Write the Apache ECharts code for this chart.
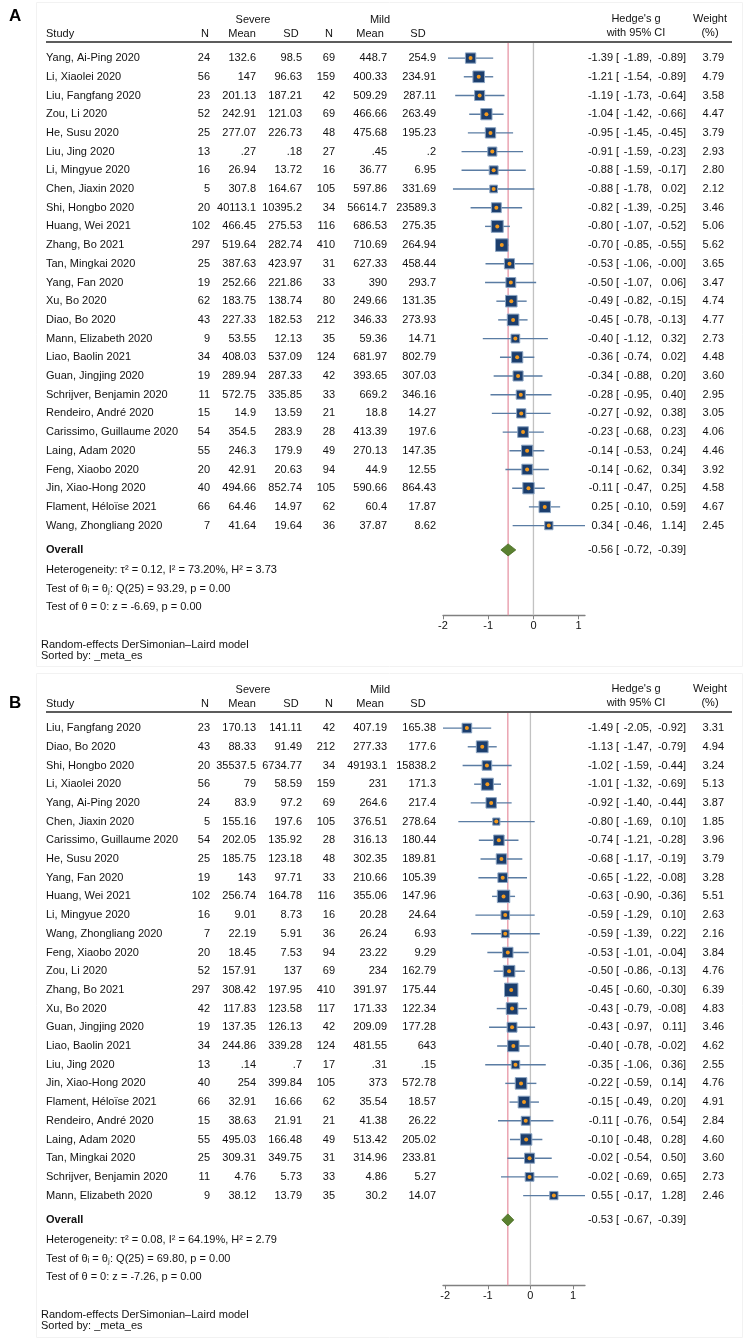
<!DOCTYPE html>
<html><head><meta charset="utf-8">
<script src="https://cdn.jsdelivr.net/npm/echarts@6/dist/echarts.min.js"></script>
<style>html,body{margin:0;padding:0;background:#fff}#c{width:744px;height:1339px}</style>
</head><body><div id="c"></div>
<script>
// ---------------- Panel A data ----------------
const studiesA = ["Yang, Ai-Ping 2020","Li, Xiaolei 2020","Liu, Fangfang 2020","Zou, Li 2020","He, Susu 2020","Liu, Jing 2020","Li, Mingyue 2020","Chen, Jiaxin 2020","Shi, Hongbo 2020","Huang, Wei 2021","Zhang, Bo 2021","Tan, Mingkai 2020","Yang, Fan 2020","Xu, Bo 2020","Diao, Bo 2020","Mann, Elizabeth 2020","Liao, Baolin 2021","Guan, Jingjing 2020","Schrijver, Benjamin 2020","Rendeiro, André 2020","Carissimo, Guillaume 2020","Laing, Adam 2020","Feng, Xiaobo 2020","Jin, Xiao-Hong 2020","Flament, Héloïse 2021","Wang, Zhongliang 2020"];
const sevNA = [24,56,23,52,25,13,16,5,20,102,297,25,19,62,43,9,34,19,11,15,54,55,20,40,66,7];
const sevMeanA = [132.6,147,201.13,242.91,277.07,0.27,26.94,307.8,40113.1,466.45,519.64,387.63,252.66,183.75,227.33,53.55,408.03,289.94,572.75,14.9,354.5,246.3,42.91,494.66,64.46,41.64];
const sevSDA = [98.5,96.63,187.21,121.03,226.73,0.18,13.72,164.67,10395.2,275.53,282.74,423.97,221.86,138.74,182.53,12.13,537.09,287.33,335.85,13.59,283.9,179.9,20.63,852.74,14.97,19.64];
const mildNA = [69,159,42,69,48,27,16,105,34,116,410,31,33,80,212,35,124,42,33,21,28,49,94,105,62,36];
const mildMeanA = [448.7,400.33,509.29,466.66,475.68,0.45,36.77,597.86,56614.7,686.53,710.69,627.33,390,249.66,346.33,59.36,681.97,393.65,669.2,18.8,413.39,270.13,44.9,590.66,60.4,37.87];
const mildSDA = [254.9,234.91,287.11,263.49,195.23,0.2,6.95,331.69,23589.3,275.35,264.94,458.44,293.7,131.35,273.93,14.71,802.79,307.03,346.16,14.27,197.6,147.35,12.55,864.43,17.87,8.62];
const esA = [-1.39,-1.21,-1.19,-1.04,-0.95,-0.91,-0.88,-0.88,-0.82,-0.80,-0.70,-0.53,-0.50,-0.49,-0.45,-0.40,-0.36,-0.34,-0.28,-0.27,-0.23,-0.14,-0.14,-0.11,0.25,0.34];
const loA = [-1.89,-1.54,-1.73,-1.42,-1.45,-1.59,-1.59,-1.78,-1.39,-1.07,-0.85,-1.06,-1.07,-0.82,-0.78,-1.12,-0.74,-0.88,-0.95,-0.92,-0.68,-0.53,-0.62,-0.47,-0.10,-0.46];
const hiA = [-0.89,-0.89,-0.64,-0.66,-0.45,-0.23,-0.17,0.02,-0.25,-0.52,-0.55,-0.00,0.06,-0.15,-0.13,0.32,0.02,0.20,0.40,0.38,0.23,0.24,0.34,0.25,0.59,1.14];
const wA = [3.79,4.79,3.58,4.47,3.79,2.93,2.80,2.12,3.46,5.06,5.62,3.65,3.47,4.74,4.77,2.73,4.48,3.60,2.95,3.05,4.06,4.46,3.92,4.58,4.67,2.45];
const overallA = [-0.56,-0.72,-0.39];
const statsA = ["Heterogeneity: τ² = 0.12, I² = 73.20%, H² = 3.73","Test of θᵢ = θⱼ: Q(25) = 93.29, p = 0.00","Test of θ = 0: z = -6.69, p = 0.00"];

// ---------------- Panel B data ----------------
const studiesB = ["Liu, Fangfang 2020","Diao, Bo 2020","Shi, Hongbo 2020","Li, Xiaolei 2020","Yang, Ai-Ping 2020","Chen, Jiaxin 2020","Carissimo, Guillaume 2020","He, Susu 2020","Yang, Fan 2020","Huang, Wei 2021","Li, Mingyue 2020","Wang, Zhongliang 2020","Feng, Xiaobo 2020","Zou, Li 2020","Zhang, Bo 2021","Xu, Bo 2020","Guan, Jingjing 2020","Liao, Baolin 2021","Liu, Jing 2020","Jin, Xiao-Hong 2020","Flament, Héloïse 2021","Rendeiro, André 2020","Laing, Adam 2020","Tan, Mingkai 2020","Schrijver, Benjamin 2020","Mann, Elizabeth 2020"];
const sevNB = [23,43,20,56,24,5,54,25,19,102,16,7,20,52,297,42,19,34,13,40,66,15,55,25,11,9];
const sevMeanB = [170.13,88.33,35537.5,79,83.9,155.16,202.05,185.75,143,256.74,9.01,22.19,18.45,157.91,308.42,117.83,137.35,244.86,0.14,254,32.91,38.63,495.03,309.31,4.76,38.12];
const sevSDB = [141.11,91.49,6734.77,58.59,97.2,197.6,135.92,123.18,97.71,164.78,8.73,5.91,7.53,137,197.95,123.58,126.13,339.28,0.7,399.84,16.66,21.91,166.48,349.75,5.73,13.79];
const mildNB = [42,212,34,159,69,105,28,48,33,116,16,36,94,69,410,117,42,124,17,105,62,21,49,31,33,35];
const mildMeanB = [407.19,277.33,49193.1,231,264.6,376.51,316.13,302.35,210.66,355.06,20.28,26.24,23.22,234,391.97,171.33,209.09,481.55,0.31,373,35.54,41.38,513.42,314.96,4.86,30.2];
const mildSDB = [165.38,177.6,15838.2,171.3,217.4,278.64,180.44,189.81,105.39,147.96,24.64,6.93,9.29,162.79,175.44,122.34,177.28,643,0.15,572.78,18.57,26.22,205.02,233.81,5.27,14.07];
const esB = [-1.49,-1.13,-1.02,-1.01,-0.92,-0.80,-0.74,-0.68,-0.65,-0.63,-0.59,-0.59,-0.53,-0.50,-0.45,-0.43,-0.43,-0.40,-0.35,-0.22,-0.15,-0.11,-0.10,-0.02,-0.02,0.55];
const loB = [-2.05,-1.47,-1.59,-1.32,-1.40,-1.69,-1.21,-1.17,-1.22,-0.90,-1.29,-1.39,-1.01,-0.86,-0.60,-0.79,-0.97,-0.78,-1.06,-0.59,-0.49,-0.76,-0.48,-0.54,-0.69,-0.17];
const hiB = [-0.92,-0.79,-0.44,-0.69,-0.44,0.10,-0.28,-0.19,-0.08,-0.36,0.10,0.22,-0.04,-0.13,-0.30,-0.08,0.11,-0.02,0.36,0.14,0.20,0.54,0.28,0.50,0.65,1.28];
const wB = [3.31,4.94,3.24,5.13,3.87,1.85,3.96,3.79,3.28,5.51,2.63,2.16,3.84,4.76,6.39,4.83,3.46,4.62,2.55,4.76,4.91,2.84,4.60,3.60,2.73,2.46];
const overallB = [-0.53,-0.67,-0.39];
const statsB = ["Heterogeneity: τ² = 0.08, I² = 64.19%, H² = 2.79","Test of θᵢ = θⱼ: Q(25) = 69.80, p = 0.00","Test of θ = 0: z = -7.26, p = 0.00"];

const tickValues = [-2,-1,0,1];
const footA = ["Random-effects DerSimonian–Laird model","Sorted by: _meta_es"];
const footB = ["Random-effects DerSimonian–Laird model","Sorted by: _meta_es"];

// ---------------- layout ----------------
const FONT = '"Liberation Sans", Arial, Helvetica, sans-serif';
const ROW = 18.7, YMIN = -0.86, YMAX = 29.8;
const OVERALL_ROW = 26.3, STAT_ROWS = [27.36, 28.38, 29.34];
const fmtNum = v => { let s = String(v); if (s.startsWith('0.')) s = s.slice(1); return s; };
const fmt2 = v => (Object.is(v, -0) ? '-0.00' : v.toFixed(2));

const chart = echarts.init(document.getElementById('c'), null, {renderer: 'canvas'});
const grids = [], xAxes = [], yAxes = [], series = [];

function txt(x, y, text, align, opts) {
  return {type: 'text', style: Object.assign({
    x: x, y: y, text: text, align: align || 'left', verticalAlign: 'middle',
    fill: '#111', fontSize: 11, fontFamily: FONT
  }, opts || {})};
}

function buildPanel(gi, top, P) {
  const xmin = Math.min(-2, ...P.lo), xmax = Math.max(1, ...P.hi);
  grids.push({left: 443, top: top, width: 142, height: (YMAX - YMIN) * ROW});
  xAxes.push({
    type: 'value', gridIndex: gi, min: xmin, max: xmax, position: 'bottom',
    axisLine: {show: true, onZero: false, lineStyle: {color: '#808080', width: 1.3}},
    axisTick: {show: true, customValues: tickValues, length: 4, lineStyle: {color: '#808080', width: 1}},
    axisLabel: {show: true, customValues: tickValues, fontSize: 11, color: '#111', margin: 5, fontFamily: FONT},
    splitLine: {show: false}
  });
  yAxes.push({type: 'value', gridIndex: gi, inverse: true, min: YMIN, max: YMAX, show: false});

  // reference lines (overall estimate, zero)
  series.push({
    type: 'custom', xAxisIndex: gi, yAxisIndex: gi, clip: false, silent: true, z: 1,
    data: [[P.overall[0], 0], [0, 1]],
    renderItem: (params, api) => {
      const x = api.value(0);
      const a = api.coord([x, YMIN]), b = api.coord([x, YMAX]);
      return {type: 'line', shape: {x1: a[0], y1: a[1], x2: b[0], y2: b[1]},
        style: {stroke: api.value(1) === 0 ? '#e796a6' : '#c2c2c2', lineWidth: 1.3}};
    }
  });

  // study CIs and boxes
  series.push({
    type: 'custom', xAxisIndex: gi, yAxisIndex: gi, clip: false, silent: true, z: 3,
    data: P.es.map((e, i) => [e, i, P.lo[i], P.hi[i], P.w[i]]),
    renderItem: (params, api) => {
      const row = api.value(1);
      const c = api.coord([api.value(0), row]);
      const a = api.coord([api.value(2), row]);
      const b = api.coord([api.value(3), row]);
      const s = 5.3 * Math.sqrt(api.value(4));
      return {type: 'group', children: [
        {type: 'line', shape: {x1: a[0], y1: a[1], x2: b[0], y2: b[1]}, style: {stroke: '#5a7ca3', lineWidth: 1.4}},
        {type: 'rect', shape: {x: c[0] - s / 2, y: c[1] - s / 2, width: s, height: s}, style: {fill: '#1c3e6d', stroke: '#8ba4c2', lineWidth: 1}},
        {type: 'circle', shape: {cx: c[0], cy: c[1], r: 2}, style: {fill: '#f39a1e'}}
      ]};
    }
  });

  // overall diamond
  series.push({
    type: 'custom', xAxisIndex: gi, yAxisIndex: gi, clip: false, silent: true, z: 3,
    data: [[P.overall[0], OVERALL_ROW, P.overall[1], P.overall[2]]],
    renderItem: (params, api) => {
      const row = api.value(1);
      const c = api.coord([api.value(0), row]);
      const a = api.coord([api.value(2), row]);
      const b = api.coord([api.value(3), row]);
      return {type: 'polygon', shape: {points: [[a[0], a[1]], [c[0], c[1] - 6], [b[0], b[1]], [c[0], c[1] + 6]]},
        style: {fill: '#5a8130', stroke: '#46691f', lineWidth: 0.8}};
    }
  });

  // table text
  const textData = P.study.map((s, i) => [0, i, 0, i]);
  textData.push([0, OVERALL_ROW, 1, 0]);
  STAT_ROWS.forEach((r, k) => textData.push([0, r, 2, k]));
  textData.push([0, YMIN, 3, 0]);
  textData.push([0, YMAX, 4, 0]);
  const ciTexts = (y, e, l, h) => [
    txt(613, y, fmt2(e), 'right'),
    txt(616, y, '['),
    txt(652, y, fmt2(l) + ',', 'right'),
    txt(683, y, fmt2(h), 'right'),
    txt(683, y, ']')
  ];
  series.push({
    type: 'custom', xAxisIndex: gi, yAxisIndex: gi, clip: false, silent: true, z: 5,
    data: textData,
    renderItem: (params, api) => {
      const y = api.coord([0, api.value(1)])[1];
      const kind = api.value(2), k = api.value(3);
      if (kind === 0) {
        return {type: 'group', children: [
          txt(46, y, P.study[k]),
          txt(210, y, fmtNum(P.sevN[k]), 'right'),
          txt(256, y, fmtNum(P.sevMean[k]), 'right'),
          txt(302, y, fmtNum(P.sevSD[k]), 'right'),
          txt(335, y, fmtNum(P.mildN[k]), 'right'),
          txt(387, y, fmtNum(P.mildMean[k]), 'right'),
          txt(436, y, fmtNum(P.mildSD[k]), 'right'),
          ...ciTexts(y, P.es[k], P.lo[k], P.hi[k]),
          txt(724, y, P.w[k].toFixed(2), 'right')
        ]};
      }
      if (kind === 1) {
        return {type: 'group', children: [
          txt(46, y, 'Overall', 'left', {fontWeight: 'bold'}),
          ...ciTexts(y, P.overall[0], P.overall[1], P.overall[2])
        ]};
      }
      if (kind === 2) {
        return txt(46, y, P.stats[k]);
      }
      if (kind === 3) {
        return {type: 'group', children: [
          {type: 'line', shape: {x1: 46, y1: y, x2: 732, y2: y}, style: {stroke: '#5c5c5c', lineWidth: 2}},
          txt(253, y - 22, 'Severe', 'center'),
          txt(380, y - 22, 'Mild', 'center'),
          txt(636, y - 23, "Hedge's g", 'center'),
          txt(710, y - 23, 'Weight', 'center'),
          txt(46, y - 8, 'Study'),
          txt(205, y - 8, 'N', 'center'),
          txt(242, y - 8, 'Mean', 'center'),
          txt(291, y - 8, 'SD', 'center'),
          txt(329, y - 8, 'N', 'center'),
          txt(370, y - 8, 'Mean', 'center'),
          txt(418, y - 8, 'SD', 'center'),
          txt(636, y - 9, 'with 95% CI', 'center'),
          txt(710, y - 9, '(%)', 'center')
        ]};
      }
      return {type: 'group', children: [
        txt(41, y + 30, P.foot[0]),
        txt(41, y + 40.5, P.foot[1])
      ]};
    }
  });
}

buildPanel(0, 42, {study: studiesA, sevN: sevNA, sevMean: sevMeanA, sevSD: sevSDA, mildN: mildNA, mildMean: mildMeanA, mildSD: mildSDA,
  es: esA, lo: loA, hi: hiA, w: wA, overall: overallA, stats: statsA, foot: footA});
buildPanel(1, 712, {study: studiesB, sevN: sevNB, sevMean: sevMeanB, sevSD: sevSDB, mildN: mildNB, mildMean: mildMeanB, mildSD: mildSDB,
  es: esB, lo: loB, hi: hiB, w: wB, overall: overallB, stats: statsB, foot: footB});

chart.setOption({
  animation: false,
  backgroundColor: '#fff',
  textStyle: {fontFamily: FONT},
  grid: grids, xAxis: xAxes, yAxis: yAxes, series: series,
  graphic: [
    {type: 'rect', shape: {x: 36.5, y: 2.5, width: 706, height: 664}, style: {fill: 'none', stroke: '#f2f2f2', lineWidth: 1}, silent: true, z: -1},
    {type: 'rect', shape: {x: 36.5, y: 673.5, width: 706, height: 664}, style: {fill: 'none', stroke: '#f2f2f2', lineWidth: 1}, silent: true, z: -1},
    {type: 'text', style: {x: 9, y: 16, text: 'A', fontSize: 17, fontWeight: 'bold', fontFamily: FONT, fill: '#000', verticalAlign: 'middle'}},
    {type: 'text', style: {x: 9, y: 703, text: 'B', fontSize: 17, fontWeight: 'bold', fontFamily: FONT, fill: '#000', verticalAlign: 'middle'}}
  ]
});
</script></body></html>
